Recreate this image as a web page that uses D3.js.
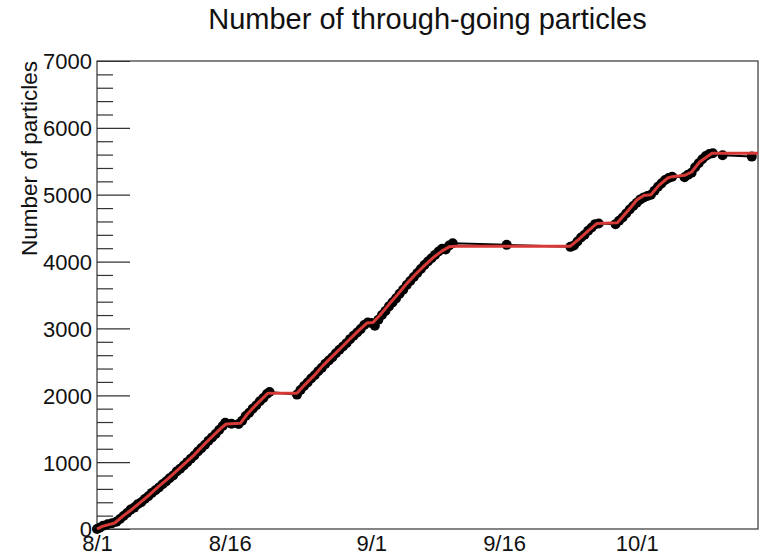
<!DOCTYPE html>
<html>
<head>
<meta charset="utf-8">
<script src="https://cdn.jsdelivr.net/npm/d3@7"></script>
<style>
  html, body { margin: 0; padding: 0; background: #fff; }
  svg { display: block; font-family: "Liberation Sans", Arial, Helvetica, sans-serif; }
</style>
</head>
<body>
<svg id="chart" width="761" height="555"></svg>
<script>
// Measured run points: days since Aug 1 and cumulative particle count
const runDays = [
  0.0, 0.3, 0.7, 1.2, 1.7, 2.2, 2.6, 3.0, 3.4, 3.8, 4.2, 4.6, 5.0, 5.4, 5.8, 6.2, 6.6, 7.0, 7.4, 7.8,
  8.2, 8.6, 9.0, 9.4, 9.8, 10.2, 10.6, 11.0, 11.4, 11.8, 12.2, 12.6, 13.0, 13.4, 13.8, 14.2, 14.5,
  15.2, 16.0, 16.4, 16.8, 17.2, 17.6, 18.0, 18.4, 18.8, 19.2, 19.5,
  22.6, 23.0, 23.4, 23.8, 24.2, 24.6, 25.0, 25.4, 25.8, 26.2, 26.6, 27.0, 27.4, 27.8, 28.2, 28.6,
  29.0, 29.4, 29.8, 30.2, 30.6, 31.0, 31.4, 31.8, 32.2, 32.6, 33.0, 33.4, 33.8, 34.2, 34.6, 35.0,
  35.4, 35.8, 36.2, 36.6, 37.0, 37.4, 37.8, 38.2, 38.6, 39.0, 39.4, 39.8, 40.2,
  46.3,
  53.5, 53.9, 54.3, 54.7, 55.1, 55.5, 55.9, 56.3, 56.7,
  58.6, 59.0, 59.4, 59.8, 60.2, 60.6, 61.0, 61.4, 61.8, 62.2, 62.6, 63.0, 63.4, 63.8, 64.2, 64.6, 65.0,
  66.4, 66.8, 67.2, 67.6, 68.0, 68.4, 68.8, 69.2, 69.6, 70.7, 74.0
];
const runCounts = [
  0, 20, 50, 70, 85, 110, 150, 195, 240, 290, 320, 370, 400, 450, 490, 540, 580, 620, 670, 710,
  760, 800, 860, 900, 950, 1000, 1050, 1100, 1160, 1210, 1260, 1320, 1370, 1420, 1480, 1540, 1590,
  1575, 1570, 1620, 1690, 1740, 1800, 1850, 1910, 1960, 2020, 2050,
  2010, 2080, 2140, 2190, 2250, 2300, 2360, 2410, 2470, 2520, 2570, 2630, 2680, 2730, 2780, 2840,
  2890, 2940, 2990, 3050, 3090, 3080, 3040, 3130, 3200, 3260, 3330, 3390, 3450, 3520, 3580, 3650,
  3710, 3770, 3830, 3890, 3950, 4000, 4050, 4100, 4150, 4190, 4180, 4240, 4275,
  4250,
  4220, 4240, 4300, 4360, 4400, 4460, 4510, 4560, 4570,
  4560, 4610, 4660, 4720, 4780, 4830, 4880, 4930, 4960, 4980, 5000, 5060, 5120, 5170, 5220, 5250, 5270,
  5260, 5300, 5330, 5410, 5470, 5530, 5580, 5610, 5620, 5590, 5570
];

// Smoothed cumulative curve
const fitDays = [
  0, 0.6, 2.0, 3.0, 4.0, 5.0, 6.0, 7.0, 8.0, 9.0, 10.0, 11.0, 12.0, 13.0, 14.2, 14.6, 16.2, 17.0,
  18.0, 19.3, 22.6, 23.5, 24.5, 25.5, 26.5, 27.5, 28.5, 29.5, 30.5, 31.2, 32.0, 33.0, 34.0, 35.0,
  36.0, 37.0, 38.0, 39.0, 39.8, 40.5, 53.5, 54.5, 55.5, 56.5, 58.8, 59.6, 60.5, 61.0, 61.8, 62.6,
  63.5, 64.5, 65.0, 66.4, 67.2, 68.1, 69.5, 74.7
];
const fitCounts = [
  0, 40, 90, 200, 300, 410, 520, 640, 750, 870, 990, 1110, 1250, 1380, 1530, 1570, 1580, 1720,
  1860, 2030, 2030, 2160, 2290, 2440, 2570, 2700, 2830, 2960, 3080, 3090, 3200, 3360, 3510, 3670,
  3810, 3940, 4060, 4160, 4220, 4230, 4230, 4340, 4460, 4570, 4580, 4700, 4840, 4920, 4990, 5000,
  5140, 5250, 5270, 5290, 5340, 5490, 5620, 5620
];

const xTickLabels = ["8/1", "8/16", "9/1", "9/16", "10/1"];
const yTickValues = [0, 1000, 2000, 3000, 4000, 5000, 6000, 7000];

const titleText = "Number of through-going particles";
const yTitleText = "Number of particles";

// Time axis anchored at Aug 1
const DAY = 864e5;
const start = new Date(2018, 7, 1);
const toDate = d => new Date(start.getTime() + d * DAY);
const parseTick = s => { const [m, d] = s.split("/").map(Number); return new Date(2018, m - 1, d); };

const frame = { left: 97, top: 61, right: 758, bottom: 529 };

const svg = d3.select("#chart");

const x = d3.scaleTime()
  .domain([start, toDate(74.7)])
  .range([frame.left, frame.right]);
const y = d3.scaleLinear()
  .domain([0, 7000])
  .range([frame.bottom, frame.top]);

const frameColor = "#333";

// Frame box
svg.append("rect")
  .attr("x", frame.left).attr("y", frame.top)
  .attr("width", frame.right - frame.left)
  .attr("height", frame.bottom - frame.top)
  .attr("fill", "none").attr("stroke", frameColor).attr("stroke-width", 1.2);

// Y axis: major ticks with labels, minor ticks every 200, drawn inward
const yAxis = d3.axisRight(y).tickValues(yTickValues).tickSize(33).tickFormat(d3.format("d"));
const yg = svg.append("g").attr("transform", `translate(${frame.left},0)`).call(yAxis);
yg.select(".domain").remove();
yg.selectAll(".tick line").attr("stroke", frameColor).attr("stroke-width", 1.2);
yg.selectAll(".tick text")
  .attr("x", -5).attr("dy", "0.36em")
  .attr("text-anchor", "end")
  .attr("fill", "#111")
  .style("font-size", "22px");

const minorVals = d3.range(0, 7001, 200).filter(v => v % 1000 !== 0);
const yMinor = d3.axisRight(y).tickValues(minorVals).tickSize(16).tickFormat("");
const ym = svg.append("g").attr("transform", `translate(${frame.left},0)`).call(yMinor);
ym.select(".domain").remove();
ym.selectAll(".tick line").attr("stroke", frameColor).attr("stroke-width", 1.2);

// X axis: date labels only
const xAxis = d3.axisBottom(x)
  .tickValues(xTickLabels.map(parseTick))
  .tickSize(0)
  .tickFormat((d, i) => xTickLabels[i]);
const xg = svg.append("g").attr("transform", `translate(0,${frame.bottom})`).call(xAxis);
xg.select(".domain").remove();
xg.selectAll(".tick text")
  .attr("y", 22).attr("dy", 0)
  .attr("fill", "#111")
  .style("font-size", "22px");

// Titles
svg.append("text")
  .attr("x", (frame.left + frame.right) / 2).attr("y", 29)
  .attr("text-anchor", "middle")
  .attr("fill", "#111")
  .style("font-size", "29px")
  .text(titleText);

svg.append("text")
  .attr("transform", `translate(37,${frame.top}) rotate(-90)`)
  .attr("text-anchor", "end")
  .attr("fill", "#111")
  .style("font-size", "22.5px")
  .text(yTitleText);

// Data
const runs = runDays.map((d, i) => ({ t: toDate(d), v: runCounts[i] }));
const fit = fitDays.map((d, i) => ({ t: toDate(d), v: fitCounts[i] }));

const line = d3.line().x(d => x(d.t)).y(d => y(d.v));

const plot = svg.append("g");

plot.append("path")
  .datum(runs)
  .attr("d", line)
  .attr("fill", "none")
  .attr("stroke", "#000")
  .attr("stroke-width", 2);

plot.selectAll("circle.run")
  .data(runs)
  .join("circle")
  .attr("class", "run")
  .attr("cx", d => x(d.t))
  .attr("cy", d => y(d.v))
  .attr("r", 5)
  .attr("fill", "#000");

plot.append("path")
  .datum(fit)
  .attr("d", line)
  .attr("fill", "none")
  .attr("stroke", "#d63a36")
  .attr("stroke-width", 3)
  .attr("stroke-linejoin", "round");
</script>
</body>
</html>
